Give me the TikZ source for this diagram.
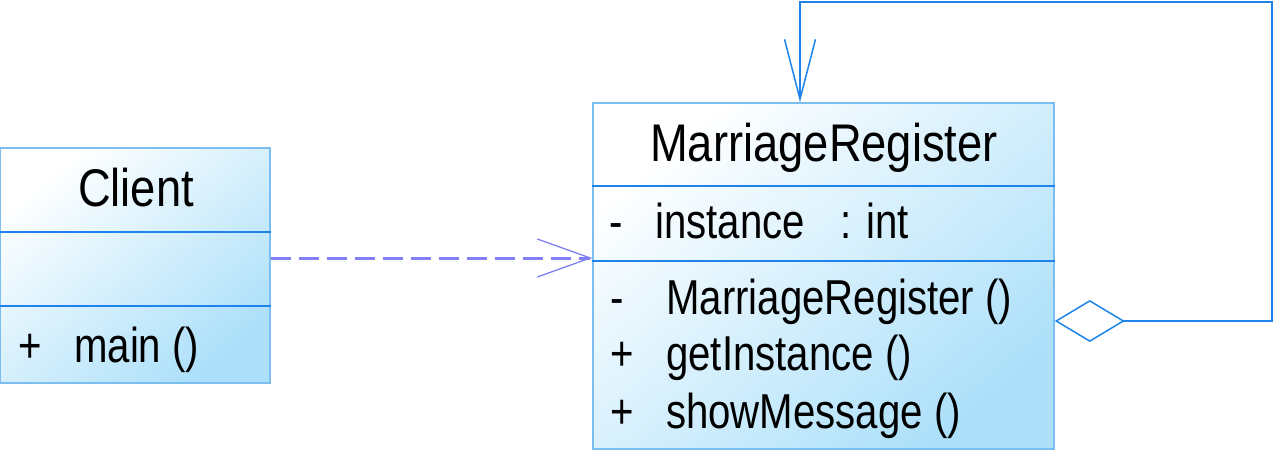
\documentclass[tikz,border=0pt]{standalone}
\usepackage{fontspec}
\setmainfont{Liberation Sans}
\newfontfamily\umlletra{Liberation Sans}[FakeStretch=0.82]
\newfontfamily\umltitulo{Liberation Sans}[FakeStretch=0.855]
\usetikzlibrary{arrows.meta,positioning,calc}
\definecolor{umlborde}{RGB}{125,190,240}
\definecolor{umllinea}{RGB}{30,132,236}
\definecolor{umlfondo}{RGB}{172,224,250}
\definecolor{umldep}{RGB}{128,128,242}
\tikzset{
  clase/.style={rectangle,draw=umlborde,line width=1.5pt,top color=white,bottom color=umlfondo,
    shading angle=40,inner sep=0pt},
  division/.style={umllinea,line width=2pt},
  titulo/.style={inner sep=0pt,anchor=base,font=\umltitulo\fontsize{53}{60}\selectfont},
  texto/.style={inner sep=0pt,anchor=base west,font=\umlletra\fontsize{49}{56}\selectfont},
  dependencia/.style={-{Straight Barb[length=53pt,width=38pt,line width=1.3pt]},umldep,
    line width=3pt,dash pattern=on 20pt off 8pt},
  autoasoc/.style={{Diamond[fill=white,length=70pt,width=42pt,line width=1.5pt]}-{Straight Barb[length=60pt,width=31pt,line width=1.5pt]},
    umllinea,line width=2pt},
}

\begin{document}
\begin{tikzpicture}[x=1pt,y=-1pt]
    \useasboundingbox (0,0) rectangle (1280,461);
    % clases
    \node[clase,minimum width=270pt,minimum height=235pt] (cli) at (135,265.5) {};
    \node[clase,minimum width=461pt,minimum height=346pt] (mr) at (823.5,276) {};
    \draw[division] (cli.west |- 0,232) -- (cli.east |- 0,232);
    \draw[division] (cli.west |- 0,306) -- (cli.east |- 0,306);
    \draw[division] (mr.west |- 0,186) -- (mr.east |- 0,186);
    \draw[division] (mr.west |- 0,261) -- (mr.east |- 0,261);
    % textos
    \node[titulo] (cliT) at (136,206) {Client};
    \node[texto] (cliV) at (18,362) {+};
    \node[texto] (cliM) at (74,362) {main ()};
    \node[titulo] (mrT) at (824,161) {MarriageRegister};
    \node[texto] (mrV0) at (609,238) {-};
    \node[texto] (mrA) at (655,238) {instance};
    \node[texto] (mrTipo) at (840,238) {: int};
    \foreach \y/\v/\m [count=\i] in {314/-/MarriageRegister (),370/+/getInstance (),428/+/showMessage ()} {
      \node[texto] (mrV\i) at (610,\y) {\v};
      \node[texto] (mrM\i) at (666,\y) {\m};
    }
    % relaciones
    \coordinate (lazoA) at (1272,321);
    \coordinate (lazoB) at (1272,2);
    \coordinate (lazoC) at (800,2);
    \draw[dependencia] (cli.east |- 0,258) -- (mr.west |- 0,258);
    \draw[autoasoc] (mr.east |- lazoA) -- (lazoA) -- (lazoB) -- (lazoC) -- (mr.north -| lazoC);
\end{tikzpicture}
\end{document}
